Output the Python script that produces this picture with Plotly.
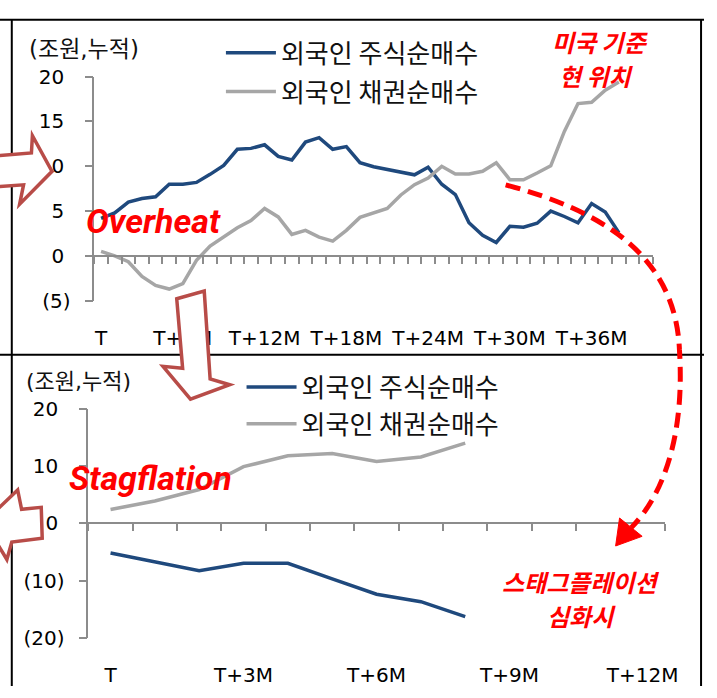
import plotly.graph_objects as go

W, H = 717, 698

# Cumulative foreign net purchases (trillion KRW), overheat phase, monthly from T
overheat_tick_pos = [0, 6, 12, 18, 24, 30, 36]
overheat_tick_text = ["T", "T+6M", "T+12M", "T+18M", "T+24M", "T+30M", "T+36M"]
overheat_n_months = 41
stock_overheat = [4.2, 4.8, 6.0, 6.4, 6.6, 8.0, 8.0, 8.2, 9.1, 10.1,
                  11.9, 12.0, 12.4, 11.1, 10.7, 12.7, 13.2, 11.9, 12.2, 10.4,
                  9.95, 9.65, 9.35, 9.05, 9.9, 8.0, 6.85, 3.7, 2.3, 1.5,
                  3.3, 3.2, 3.65, 5.0, 4.4, 3.7, 5.85, 4.9, 2.6]
bond_overheat = [0.5, 0.0, -0.65, -2.3, -3.3, -3.7, -3.1, -0.5, 1.1, 2.1,
                 3.15, 3.95, 5.3, 4.35, 2.4, 2.85, 2.1, 1.65, 2.85, 4.3,
                 4.85, 5.3, 6.8, 7.95, 8.7, 10.0, 9.15, 9.15, 9.45, 10.4,
                 8.5, 8.5, 9.25, 10.05, 13.9, 17.0, 17.15, 18.5, 19.4]

# Stagflation phase
stag_tick_pos = [0, 3, 6, 9, 12]
stag_tick_text = ["T", "T+3M", "T+6M", "T+9M", "T+12M"]
stag_n_months = 13
stock_stag = [-5.2, -6.7, -8.3, -7.0, -7.0, -9.7, -12.4, -13.7, -16.3]
bond_stag = [2.4, 3.9, 5.9, 9.9, 11.8, 12.2, 10.8, 11.6, 14.0]

top_yticks = [-5, 0, 5, 10, 15, 20]
bot_yticks = [-20, -10, 0, 10, 20]

STOCK_NAME = "외국인 주식순매수"
BOND_NAME = "외국인 채권순매수"
UNIT = "(조원,누적)"

BLUE = "#1f497d"
GRAY = "#a6a6a6"
AXIS_GRAY = "#8c8c8c"
ARROW = "#b84c48"
RED = "#ff0000"
LATIN = "DejaVu Sans, Noto Sans CJK KR"
KOR = "Noto Sans CJK KR"


def px(x):
    return x / W


def py(y):
    return 1 - y / H


def fmt(v):
    # accounting style: negatives in parentheses, positives padded
    return f"({abs(v)})" if v < 0 else f"{v}\u00a0"


def pts(points):
    return " ".join(f"{px(x):.5f},{py(y):.5f}" for x, y in points)


def polygon(points):
    return "M " + " L ".join(pts([p]) for p in points) + " Z"


top_dom_x = [px(96), px(665)]
top_dom_y = [py(299), py(67)]
bot_dom_x = [px(90), px(677)]
bot_dom_y = [py(648), py(411)]
top_range = [-5, 20]
bot_range = [-20, 20]


def zero_pos(dom, rng):
    return dom[0] + (0 - rng[0]) / (rng[1] - rng[0]) * (dom[1] - dom[0])


fig = go.Figure()

top_x = list(range(len(stock_overheat)))
bot_x = list(range(len(stock_stag)))

fig.add_trace(go.Scatter(x=top_x, y=stock_overheat, mode="lines", name=STOCK_NAME,
                         line=dict(color=BLUE, width=3.5), xaxis="x", yaxis="y",
                         legend="legend", legendgroup="a"))
fig.add_trace(go.Scatter(x=top_x, y=bond_overheat, mode="lines", name=BOND_NAME,
                         line=dict(color=GRAY, width=3.5), xaxis="x", yaxis="y",
                         legend="legend", legendgroup="b"))
fig.add_trace(go.Scatter(x=bot_x, y=stock_stag, mode="lines", name=STOCK_NAME,
                         line=dict(color=BLUE, width=3.5), xaxis="x2", yaxis="y2",
                         legend="legend2", legendgroup="c"))
fig.add_trace(go.Scatter(x=bot_x, y=bond_stag, mode="lines", name=BOND_NAME,
                         line=dict(color=GRAY, width=3.5), xaxis="x2", yaxis="y2",
                         legend="legend2", legendgroup="d"))
# carriers for the category axes drawn along y = 0
fig.add_trace(go.Scatter(x=[], y=[], xaxis="x3", yaxis="y", showlegend=False, hoverinfo="skip"))
fig.add_trace(go.Scatter(x=[], y=[], xaxis="x4", yaxis="y2", showlegend=False, hoverinfo="skip"))

base = dict(showgrid=False, zeroline=False)
label_x = dict(base, ticks="outside", ticklen=19, tickcolor="rgba(0,0,0,0)", showline=False,
               tickfont=dict(family=LATIN, size=20, color="#000"))
label_y = dict(base, ticks="outside", ticklen=8, tickwidth=1.5, tickcolor=AXIS_GRAY,
               showline=True, linecolor=AXIS_GRAY, linewidth=1.5,
               ticklabelstandoff=10, tickfont=dict(family=LATIN, size=20, color="#000"))
cat_axis = dict(base, ticks="outside", ticklen=7, tickwidth=1.5, tickcolor=AXIS_GRAY,
                showline=True, linecolor=AXIS_GRAY, linewidth=1.5, showticklabels=False,
                anchor="free", side="bottom")

top_xrange = [-0.5, overheat_n_months - 0.5]
bot_xrange = [-0.5, stag_n_months - 0.5]

fig.update_layout(
    width=W, height=H, margin=dict(l=0, r=0, t=0, b=0),
    paper_bgcolor="white", plot_bgcolor="rgba(0,0,0,0)",
    showlegend=True,
    xaxis=dict(label_x, domain=top_dom_x, anchor="y", range=top_xrange,
               tickvals=overheat_tick_pos, ticktext=overheat_tick_text),
    yaxis=dict(label_y, domain=top_dom_y, anchor="x", range=top_range,
               tickvals=top_yticks, ticktext=[fmt(v) for v in top_yticks]),
    xaxis2=dict(label_x, domain=bot_dom_x, anchor="y2", range=bot_xrange,
                tickvals=stag_tick_pos, ticktext=stag_tick_text),
    yaxis2=dict(label_y, domain=bot_dom_y, anchor="x2", range=bot_range,
                tickvals=bot_yticks, ticktext=[fmt(v) for v in bot_yticks]),
    xaxis3=dict(cat_axis, overlaying="x", range=top_xrange,
                position=zero_pos(top_dom_y, top_range),
                tickvals=[i - 0.5 for i in range(overheat_n_months + 1)]),
    xaxis4=dict(cat_axis, overlaying="x2", range=bot_xrange,
                position=zero_pos(bot_dom_y, bot_range),
                tickvals=[i - 0.5 for i in range(stag_n_months + 1)]),
    legend=dict(x=px(225), y=py(18), xanchor="left", yanchor="top",
                bgcolor="rgba(0,0,0,0)", traceorder="grouped", tracegroupgap=2,
                itemwidth=50, font=dict(family=KOR, size=26, color="#111")),
    legend2=dict(x=px(246), y=py(364), xanchor="left", yanchor="top",
                 bgcolor="rgba(0,0,0,0)", traceorder="grouped", tracegroupgap=0,
                 itemwidth=50, font=dict(family=KOR, size=26, color="#111")),
)

annotations = [
    dict(text=UNIT, x=px(27), y=py(38), xanchor="left", yanchor="middle",
         font=dict(family=LATIN, size=23, color="#111")),
    dict(text=UNIT, x=px(24), y=py(383), xanchor="left", yanchor="middle",
         font=dict(family=LATIN, size=22, color="#111")),
    dict(text="Overheat", x=px(156), y=py(216), xanchor="center", yanchor="middle",
         font=dict(family="Roboto", size=34, color=RED, weight="bold", style="italic")),
    dict(text="Stagflation", x=px(153), y=py(483), xanchor="center", yanchor="middle",
         font=dict(family="Roboto", size=34, color=RED, weight="bold", style="italic")),
    dict(text="미국 기준", x=px(612), y=py(31), xanchor="center", yanchor="middle",
         font=dict(family=KOR, size=24, color=RED, weight="bold", style="italic")),
    dict(text="현 위치", x=px(608), y=py(66), xanchor="center", yanchor="middle",
         font=dict(family=KOR, size=24, color=RED, weight="bold", style="italic")),
    dict(text="스태그플레이션", x=px(591), y=py(590), xanchor="center", yanchor="middle",
         font=dict(family=KOR, size=24, color=RED, weight="bold", style="italic")),
    dict(text="심화시", x=px(592), y=py(625), xanchor="center", yanchor="middle",
         font=dict(family=KOR, size=24, color=RED, weight="bold", style="italic")),
]
for a in annotations:
    a.update(xref="paper", yref="paper", showarrow=False)
fig.update_layout(annotations=annotations)

shapes = []
# table frame
for x0, y0, x1, y1 in [(0, 8, W, 8), (0, 355, W, 355), (12, 8, 12, H), (714, 8, 714, H)]:
    shapes.append(dict(type="line", xref="paper", yref="paper",
                       x0=px(x0), y0=py(y0), x1=px(x1), y1=py(y1),
                       line=dict(color="#000", width=2)))
# hollow block arrows
arrow_style = dict(type="path", xref="paper", yref="paper", fillcolor="white",
                   line=dict(color=ARROW, width=3.5))
shapes.append(dict(arrow_style, path=polygon(
    [(-6, 149), (32, 146), (33, 128), (53, 165), (20, 199), (24, 179), (-6, 181)])))
shapes.append(dict(arrow_style, path=polygon(
    [(180, 297), (208, 289), (214, 380), (234, 386), (194, 401), (166, 367), (186, 369)])))
shapes.append(dict(arrow_style, path=polygon(
    [(18, 495), (22, 515), (42, 513), (43, 545), (12, 549), (7, 567), (-16, 528)])))
# dashed red path from the current position towards stagflation
curve = ("M " + pts([(515, 179)]) + " C " + pts([(610, 205), (688, 250), (692, 350)])
         + " C " + pts([(697, 430), (680, 495), (643, 534)]))
shapes.append(dict(type="path", xref="paper", yref="paper", path=curve,
                   line=dict(color=RED, width=5, dash="15px,8px")))
shapes.append(dict(type="path", xref="paper", yref="paper", fillcolor=RED,
                   line=dict(color=RED, width=1),
                   path=polygon([(627, 553), (631, 524), (654, 543)])))
fig.update_layout(shapes=shapes)

fig.write_html("out.html")
